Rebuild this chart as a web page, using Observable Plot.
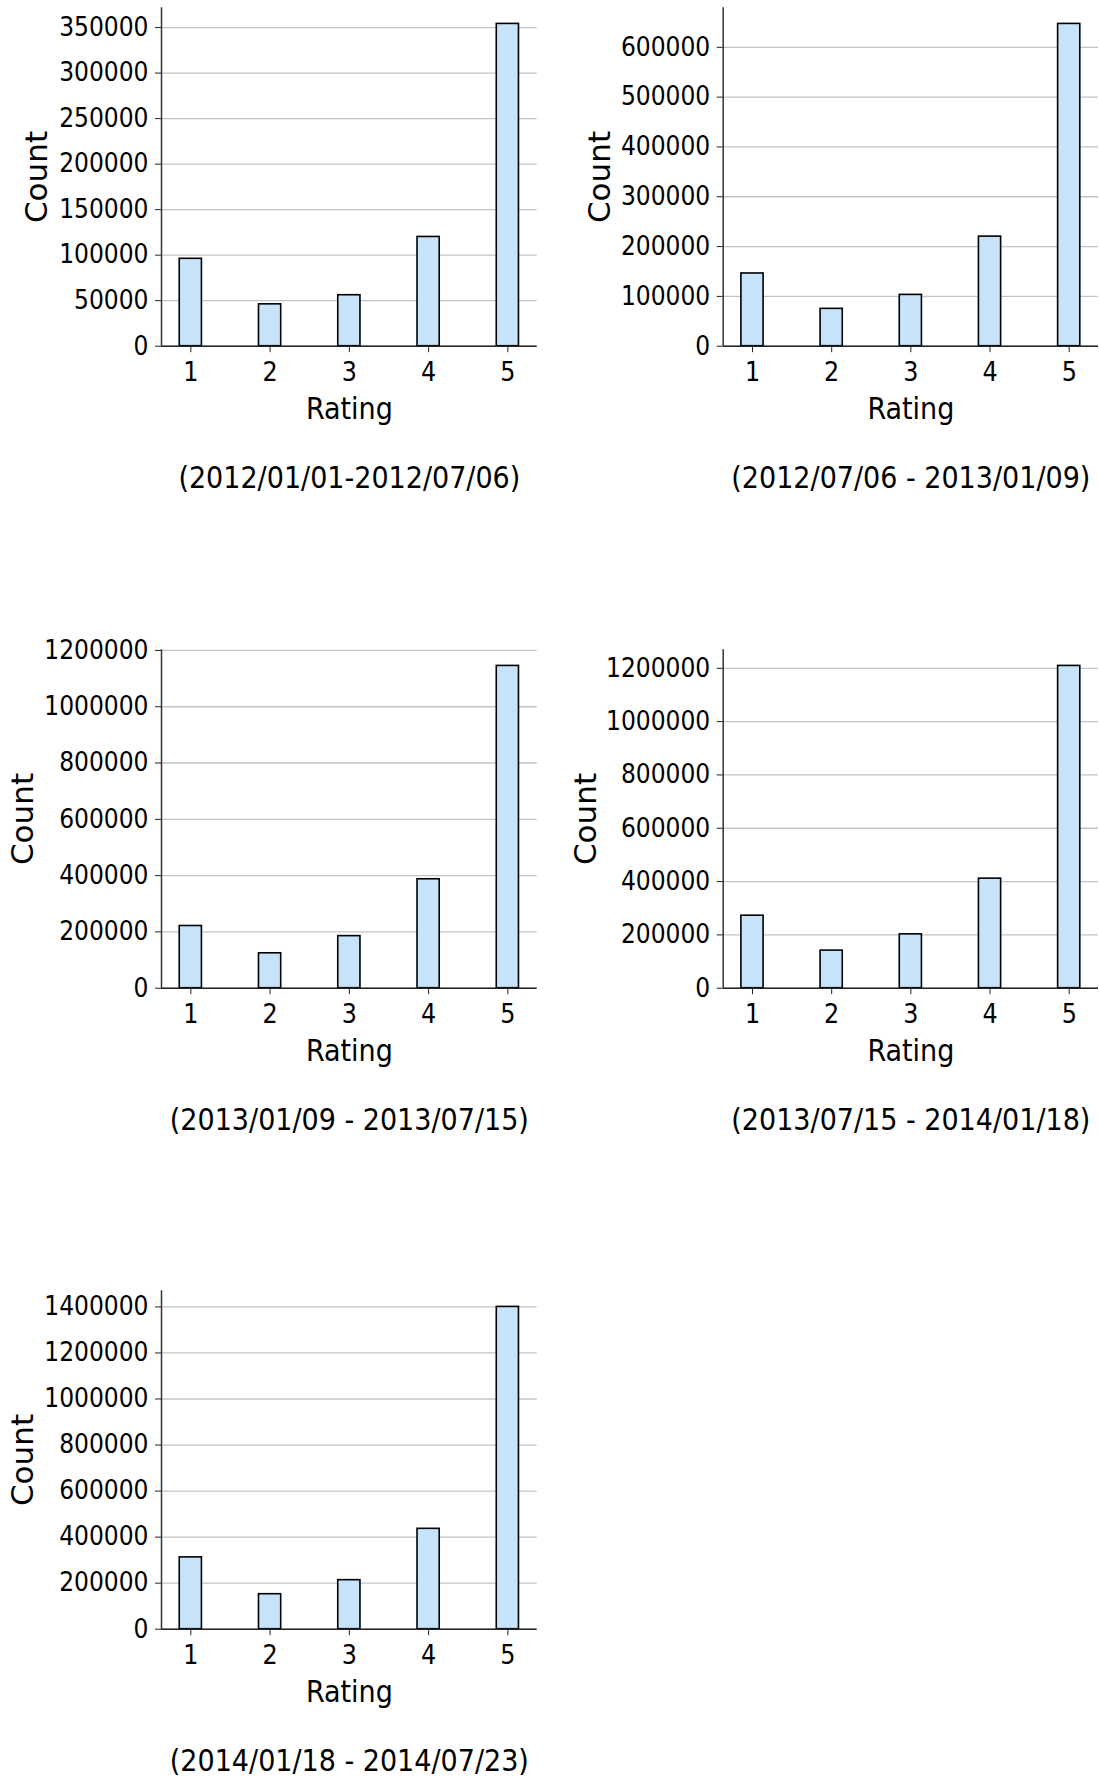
<!DOCTYPE html>
<html>
<head>
<meta charset="utf-8">
<script src="https://cdn.jsdelivr.net/npm/d3@7"></script>
<script src="https://cdn.jsdelivr.net/npm/@observablehq/plot@0.6"></script>
<style>
  html, body { margin: 0; padding: 0; background: #fff; }
  #page { position: relative; width: 1099px; height: 1778px; overflow: hidden; background: #fff; }
  .panel { position: absolute; }
  .panel svg { display: block; overflow: visible; font-stretch: condensed; }
</style>
</head>
<body>
<div id="page"></div>
<script>
// Rating categories shared by every period
const ratings = [1, 2, 3, 4, 5];

// Number of reviews per rating, one array per half-year period
const counts2012a = [96000, 46000, 56000, 120000, 354000];
const counts2012b = [146000, 75000, 103000, 220000, 647000];
const counts2013a = [221000, 124000, 185000, 387000, 1145000];
const counts2013b = [272000, 141000, 202000, 411000, 1209000];
const counts2014a = [312000, 152000, 213000, 436000, 1400000];

// Period captions
const periods = [
  "(2012/01/01-2012/07/06)",
  "(2012/07/06 - 2013/01/09)",
  "(2013/01/09 - 2013/07/15)",
  "(2013/07/15 - 2014/01/18)",
  "(2014/01/18 - 2014/07/23)"
];

// y tick values for each panel
const yTicks2012a = [0, 50000, 100000, 150000, 200000, 250000, 300000, 350000];
const yTicks2012b = [0, 100000, 200000, 300000, 400000, 500000, 600000];
const yTicks2013a = [0, 200000, 400000, 600000, 800000, 1000000, 1200000];
const yTicks2013b = [0, 200000, 400000, 600000, 800000, 1000000, 1200000];
const yTicks2014a = [0, 200000, 400000, 600000, 800000, 1000000, 1200000, 1400000];

const FONT = "'DejaVu Sans Condensed', 'DejaVu Sans', sans-serif";
const SVG_W = 549;
const SVG_H = 520;
const FRAME_TOP = 7.3;
const FRAME_H = 338.4;
const X_DOMAIN = [0.63, 5.37];

function drawPanel({counts, yTicks, caption, left, top, marginLeft, marginRight, countOffset}) {
  const data = ratings.map((r, i) => ({rating: r, count: counts[i]}));
  const ymax = d3.max(counts) * 1.05;
  const chart = Plot.plot({
    width: SVG_W,
    height: SVG_H,
    marginLeft,
    marginRight,
    marginTop: FRAME_TOP,
    marginBottom: SVG_H - FRAME_TOP - FRAME_H,
    style: {fontFamily: FONT, color: "#000", background: "transparent", overflow: "visible"},
    x: {type: "linear", domain: X_DOMAIN},
    y: {type: "linear", domain: [0, ymax]},
    marks: [
      Plot.gridY(yTicks, {stroke: "#c4c4c4", strokeOpacity: 1, strokeWidth: 1.3}),
      Plot.rectY(data, {
        x1: d => d.rating - 0.14,
        x2: d => d.rating + 0.14,
        y: "count",
        fill: "#c6e3fa",
        stroke: "#000",
        strokeWidth: 1.6
      }),
      Plot.ruleX([X_DOMAIN[0]], {stroke: "#333", strokeWidth: 1.5}),
      Plot.ruleY([0], {stroke: "#222", strokeWidth: 1.5}),
      Plot.axisY(yTicks, {
        tickSize: 6, tickPadding: 7, fontSize: 26, stroke: "#222",
        tickFormat: d => String(d), label: null
      }),
      Plot.axisX(ratings, {
        tickSize: 6.5, tickPadding: 9, fontSize: 26.5, stroke: "#222",
        tickFormat: d => String(d), label: null
      }),
      Plot.text(["Rating"], {text: d => d, frameAnchor: "bottom", dy: 73, fontSize: 30, fill: "#000"}),
      Plot.text(["Count"], {
        text: d => d, frameAnchor: "left", textAnchor: "middle",
        dx: -countOffset, rotate: -90, fontSize: 31, fill: "#000"
      }),
      Plot.text([caption], {text: d => d, frameAnchor: "bottom", dy: 141.5, fontSize: 30, fill: "#000"})
    ]
  });
  // the vertical axis title uses the regular width face
  d3.select(chart).selectAll("text")
    .filter(function() { return this.textContent === "Count"; })
    .style("font-family", "'DejaVu Sans', sans-serif")
    .style("font-stretch", "normal");
  const holder = document.createElement("div");
  holder.className = "panel";
  holder.style.left = left + "px";
  holder.style.top = top + "px";
  holder.appendChild(chart);
  document.getElementById("page").appendChild(holder);
}

const ROW = 641.7;
drawPanel({counts: counts2012a, yTicks: yTicks2012a, caption: periods[0], left: 0, top: 0, marginLeft: 161, marginRight: 12.3, countOffset: 124.5});
drawPanel({counts: counts2012b, yTicks: yTicks2012b, caption: periods[1], left: 550, top: 0, marginLeft: 172.7, marginRight: 1, countOffset: 123.5});
drawPanel({counts: counts2013a, yTicks: yTicks2013a, caption: periods[2], left: 0, top: ROW, marginLeft: 161, marginRight: 12.3, countOffset: 138.5});
drawPanel({counts: counts2013b, yTicks: yTicks2013b, caption: periods[3], left: 550, top: ROW, marginLeft: 172.7, marginRight: 1, countOffset: 137.5});
drawPanel({counts: counts2014a, yTicks: yTicks2014a, caption: periods[4], left: 0, top: 2 * ROW, marginLeft: 161, marginRight: 12.3, countOffset: 138.5});
</script>
</body>
</html>
